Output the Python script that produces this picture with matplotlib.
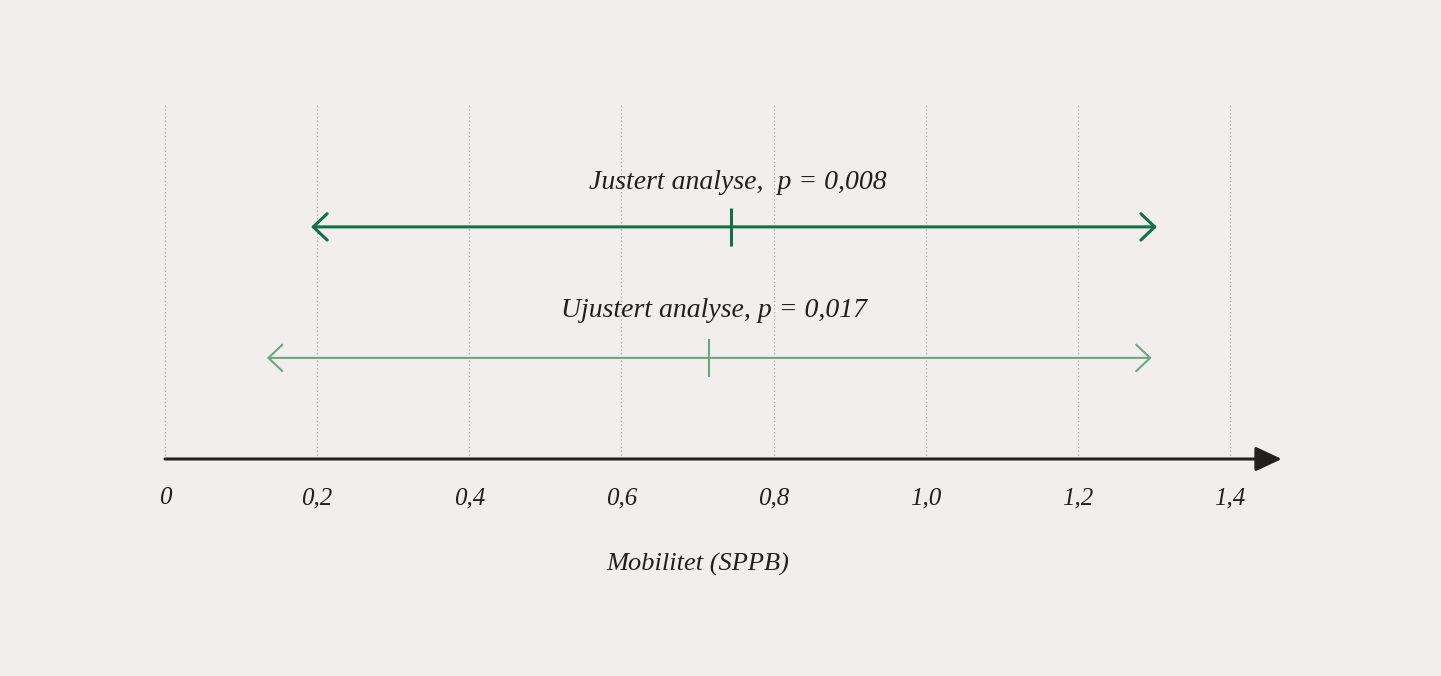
import matplotlib
matplotlib.use("Agg")
import matplotlib.pyplot as plt
from matplotlib.patches import FancyArrowPatch

# Data
labels = ["Justert analyse,  p = 0,008", "Ujustert analyse, p = 0,017"]
estimates = [0.744, 0.715]
lower = [0.192, 0.134]
upper = [1.304, 1.297]
tick_values = [0, 0.2, 0.4, 0.6, 0.8, 1.0, 1.2, 1.4]
tick_labels = ["0", "0,2", "0,4", "0,6", "0,8", "1,0", "1,2", "1,4"]
xlabel = "Mobilitet (SPPB)"

# Styles
bg = "#f1eeed"
colors = ["#127148", "#6ba683"]
lws = [2.2, 1.5]
rows_y = [0.652, 0.284]
label_y = [0.777, 0.416]
label_x = [0.753, 0.722]
font = dict(family="Liberation Serif", style="italic")

W, H = 1441, 676
fig = plt.figure(figsize=(W / 100, H / 100), dpi=100, facecolor=bg)
left_px, right_px = 165, 1230
top_px, bot_px = 103, 459
ax = fig.add_axes([left_px / W, 1 - bot_px / H, (right_px - left_px) / W, (bot_px - top_px) / H])
ax.set_facecolor(bg)
ax.set_xlim(0, 1.4)
ax.set_ylim(0, 1)
for s in ax.spines.values():
    s.set_visible(False)
ax.set_yticks([])
ax.set_xticks([])

# Gridlines
for v in tick_values:
    ax.plot([v, v], [0, 1], color="#aaaaaa", lw=0.9, ls=(0, (1, 2)), zorder=1, clip_on=False)

# Axis arrow
ax.add_patch(FancyArrowPatch((0, 0), (1.468, 0), arrowstyle="-|>,head_length=16,head_width=7.5",
                             mutation_scale=1, color="#231f20", lw=2.2, shrinkA=0, shrinkB=0,
                             clip_on=False, zorder=3))

# Tick labels
for v, t in zip(tick_values, tick_labels):
    ax.text(v, -0.127, t, ha="center", va="baseline", fontsize=18, color="#231f20", **font)

ax.text(0.7, -0.297, xlabel, ha="center", va="center", fontsize=19, color="#231f20", **font)

# Intervals
for i in range(len(labels)):
    y = rows_y[i]
    ax.add_patch(FancyArrowPatch((lower[i], y), (upper[i], y),
                                 arrowstyle="<->,head_length=10,head_width=9.5",
                                 mutation_scale=1, color=colors[i], lw=lws[i],
                                 shrinkA=0, shrinkB=0, clip_on=False, zorder=4))
    ax.plot([estimates[i], estimates[i]], [y - 0.054, y + 0.054], color=colors[i], lw=lws[i], zorder=4,
            solid_capstyle="butt")
    ax.text(label_x[i], label_y[i], labels[i], ha="center", va="center", fontsize=20,
            color="#231f20", **font)

fig.savefig("out.png", dpi=100, facecolor=bg)
